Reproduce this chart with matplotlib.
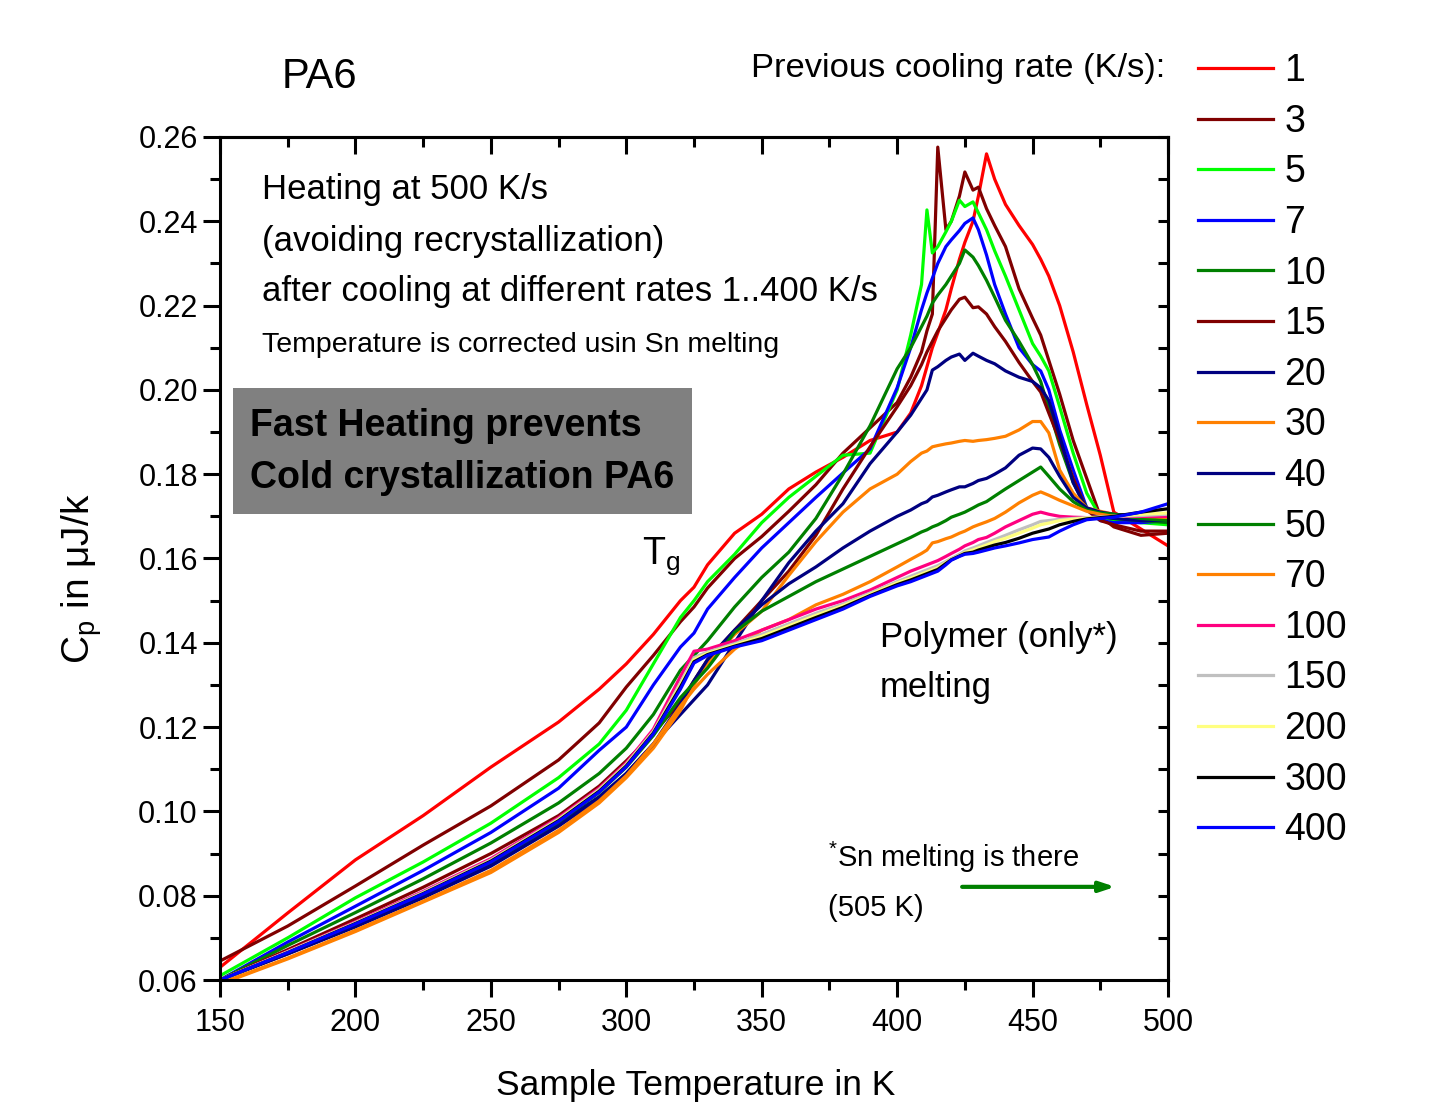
import matplotlib
matplotlib.use("Agg")
import matplotlib.pyplot as plt
from matplotlib.patches import Rectangle

plt.rcParams['font.family'] = ['Liberation Sans', 'DejaVu Sans']
plt.rcParams['mathtext.fontset'] = 'custom'
plt.rcParams['mathtext.rm'] = 'Liberation Sans'

# ---------------- data ----------------
T = [150, 175, 200, 225, 250, 275, 290, 300, 310, 320, 325, 330, 340, 350, 360, 370,
     380, 390, 400, 405, 409, 411, 413, 415, 418, 420, 423, 425, 428, 430, 433, 436,
     440, 445, 450, 453, 456, 460, 465, 470, 475, 480, 490, 500]

cp_1 = [.0630, .0759, .0885, .0990, .1105, .1212, .1290, .1350, .1420, .1500, .1532, .1585,
        .1660, .1705, .1765, .1805, .1840, .1880, .1900, .1945, .2010, .2055, .2100, .2135,
        .2190, .2240, .2310, .2350, .2400, .2460, .2560, .2500, .2440, .2390, .2345, .2310,
        .2270, .2200, .2090, .1965, .1845, .1710, .1670, .1630]
cp_3 = [.0645, .0728, .0823, .0920, .1013, .1122, .1210, .1295, .1370, .1450, .1485, .1530,
        .1600, .1652, .1712, .1775, .1850, .1910, .1970, .2030, .2090, .2140, .2180, .2576,
        .2380, .2400, .2460, .2517, .2474, .2481, .2430, .2390, .2340, .2240, .2170, .2130,
        .2070, .1990, .1880, .1790, .1700, .1675, .1655, .1660]
cp_5 = [.0610, .0700, .0795, .0880, .0972, .1080, .1160, .1240, .1350, .1460, .1500, .1545,
        .1610, .1685, .1745, .1795, .1845, .1850, .2000, .2130, .2250, .2427, .2325, .2340,
        .2375, .2400, .2450, .2435, .2446, .2420, .2380, .2330, .2270, .2190, .2110, .2080,
        .2045, .1960, .1850, .1755, .1700, .1690, .1685, .1680]
cp_7 = [.0600, .0690, .0775, .0860, .0950, .1055, .1145, .1200, .1300, .1390, .1423, .1480,
        .1555, .1625, .1685, .1745, .1803, .1860, .2005, .2100, .2190, .2230, .2265, .2300,
        .2340, .2356, .2378, .2395, .2408, .2380, .2320, .2250, .2180, .2100, .2060, .2045,
        .2000, .1905, .1810, .1720, .1690, .1685, .1685, .1690]
cp_10 = [.0600, .0682, .0760, .0840, .0925, .1020, .1090, .1150, .1230, .1335, .1370, .1405,
         .1485, .1555, .1615, .1695, .1800, .1915, .2050, .2100, .2150, .2175, .2206, .2225,
         .2250, .2270, .2300, .2332, .2315, .2295, .2260, .2220, .2165, .2115, .2060, .2020,
         .1955, .1870, .1780, .1720, .1700, .1695, .1690, .1685]
cp_15 = [.0600, .0672, .0745, .0820, .0900, .0990, .1060, .1120, .1185, .1260, .1310, .1360,
         .1430, .1500, .1570, .1655, .1765, .1865, .1960, .2010, .2060, .2090, .2115, .2140,
         .2170, .2190, .2215, .2220, .2195, .2197, .2180, .2150, .2115, .2065, .2020, .1995,
         .1945, .1880, .1790, .1715, .1690, .1680, .1665, .1665]
cp_20 = [.0600, .0662, .0728, .0800, .0875, .0970, .1035, .1090, .1160, .1230, .1265, .1300,
         .1400, .1500, .1590, .1665, .1730, .1825, .1900, .1940, .1980, .2000, .2047, .2055,
         .2070, .2078, .2085, .2070, .2087, .2080, .2070, .2062, .2045, .2030, .2020, .2005,
         .1975, .1890, .1780, .1715, .1700, .1695, .1690, .1690]
cp_30 = [.0590, .0650, .0715, .0785, .0855, .0950, .1020, .1080, .1150, .1240, .1300, .1350,
         .1420, .1475, .1560, .1640, .1710, .1765, .1800, .1830, .1850, .1855, .1865, .1868,
         .1872, .1874, .1878, .1880, .1878, .1880, .1882, .1885, .1890, .1905, .1925, .1925,
         .1898, .1810, .1755, .1720, .1712, .1705, .1700, .1695]
cp_40 = [.0600, .0662, .0726, .0795, .0870, .0965, .1030, .1090, .1160, .1255, .1310, .1360,
         .1430, .1490, .1540, .1580, .1625, .1665, .1700, .1715, .1730, .1735, .1746, .1750,
         .1758, .1763, .1770, .1770, .1778, .1785, .1790, .1800, .1815, .1845, .1862, .1860,
         .1840, .1795, .1745, .1720, .1710, .1705, .1700, .1700]
cp_50 = [.0600, .0666, .0735, .0805, .0880, .0975, .1045, .1105, .1180, .1270, .1305, .1340,
         .1425, .1475, .1510, .1545, .1575, .1605, .1635, .1650, .1663, .1668, .1675, .1680,
         .1690, .1698, .1705, .1710, .1720, .1727, .1735, .1748, .1765, .1785, .1805, .1817,
         .1795, .1765, .1735, .1715, .1708, .1705, .1695, .1690]
cp_70 = [.0592, .0652, .0718, .0787, .0860, .0955, .1025, .1085, .1160, .1250, .1290, .1325,
         .1385, .1430, .1455, .1490, .1515, .1545, .1580, .1598, .1612, .1620, .1637, .1640,
         .1647, .1651, .1660, .1665, .1675, .1680, .1687, .1695, .1710, .1732, .1750, .1758,
         .1750, .1738, .1725, .1712, .1705, .1700, .1700, .1698]
cp_100 = [.0600, .0668, .0738, .0810, .0888, .0985, .1055, .1115, .1195, .1320, .1380, .1385,
          .1405, .1430, .1455, .1480, .1500, .1525, .1555, .1570, .1580, .1585, .1590, .1595,
          .1605, .1612, .1622, .1630, .1638, .1645, .1650, .1660, .1675, .1690, .1705, .1710,
          .1705, .1700, .1698, .1697, .1698, .1700, .1700, .1700]
cp_150 = [.0600, .0667, .0736, .0808, .0885, .0982, .1052, .1112, .1190, .1305, .1365, .1378,
          .1398, .1420, .1445, .1470, .1492, .1518, .1545, .1558, .1568, .1573, .1578, .1583,
          .1593, .1600, .1610, .1618, .1625, .1630, .1638, .1645, .1655, .1668, .1680, .1688,
          .1690, .1693, .1695, .1697, .1698, .1700, .1702, .1705]
cp_200 = [.0600, .0666, .0735, .0806, .0883, .0980, .1050, .1110, .1188, .1300, .1360, .1375,
          .1395, .1415, .1440, .1465, .1488, .1515, .1542, .1553, .1563, .1568, .1573, .1578,
          .1590, .1598, .1607, .1614, .1620, .1625, .1632, .1640, .1648, .1660, .1672, .1680,
          .1684, .1690, .1693, .1696, .1698, .1700, .1705, .1708]
cp_300 = [.0600, .0665, .0734, .0805, .0882, .0978, .1048, .1108, .1186, .1295, .1355, .1372,
          .1392, .1410, .1435, .1460, .1484, .1512, .1538, .1549, .1559, .1564, .1569, .1574,
          .1588, .1597, .1606, .1612, .1615, .1620, .1626, .1632, .1638, .1648, .1660, .1665,
          .1670, .1680, .1688, .1694, .1697, .1700, .1710, .1718]
cp_400 = [.0600, .0665, .0733, .0804, .0880, .0976, .1046, .1106, .1184, .1290, .1352, .1370,
          .1390, .1405, .1430, .1455, .1480, .1510, .1535, .1545, .1555, .1560, .1565, .1570,
          .1585, .1596, .1605, .1610, .1612, .1615, .1620, .1625, .1630, .1637, .1645, .1648,
          .1651, .1665, .1680, .1692, .1695, .1698, .1710, .1730]

rates = ['1', '3', '5', '7', '10', '15', '20', '30', '40', '50', '70', '100', '150', '200', '300', '400']
series = [cp_1, cp_3, cp_5, cp_7, cp_10, cp_15, cp_20, cp_30, cp_40, cp_50, cp_70,
          cp_100, cp_150, cp_200, cp_300, cp_400]
colors = ['#FF0000', '#800000', '#00FF00', '#0000FF', '#008000', '#800000', '#000080',
          '#FF8000', '#000080', '#008000', '#FF8000', '#FF0080', '#C0C0C0', '#FFFF80',
          '#000000', '#0000FF']

# ---------------- figure ----------------
W, H = 1451, 1115
fig = plt.figure(figsize=(W / 100, H / 100), dpi=100)
fig.patch.set_facecolor('white')

def fx(px):
    return px / W

def fy(py):
    return 1 - py / H

ax = fig.add_axes([fx(220), fy(980), fx(1168) - fx(220), fy(137) - fy(980)])

handles = []
for lab, cp, col in zip(rates, series, colors):
    ln, = ax.plot(T, cp, color=col, lw=2.3, label=lab, solid_joinstyle='round')
    handles.append(ln)

ax.set_xlim(150, 500)
ax.set_ylim(0.06, 0.26)

for sp in ax.spines.values():
    sp.set_linewidth(2.2)

ax.set_xticks(range(150, 501, 50))
ax.set_xticks(range(175, 500, 50), minor=True)
ax.set_yticks([0.06 + 0.02 * i for i in range(11)])
ax.set_yticks([0.07 + 0.02 * i for i in range(10)], minor=True)
ax.set_yticklabels([f"{0.06 + 0.02 * i:.2f}" for i in range(11)])
ax.tick_params(axis='both', which='major', direction='out', length=12, width=2.2,
               labelsize=22, pad=4)
ax.tick_params(axis='both', which='minor', direction='out', length=7, width=2.2)
ax.tick_params(axis='x', which='major', pad=8)

top = ax.secondary_xaxis('top')
top.set_xticks(range(150, 501, 50))
top.set_xticks(range(175, 500, 50), minor=True)
top.tick_params(axis='x', which='major', direction='in', length=12, width=2.2, labeltop=False)
top.tick_params(axis='x', which='minor', direction='in', length=7, width=2.2)
top.spines['top'].set_linewidth(2.2)

right = ax.secondary_yaxis('right')
right.set_yticks([0.06 + 0.01 * i for i in range(21)])
right.tick_params(axis='y', which='major', direction='in', length=7, width=2.2, labelright=False)
right.spines['right'].set_linewidth(2.2)

fig.text(fx(696), fy(1085), 'Sample Temperature in K', fontsize=25.5, ha='center', va='center')
fig.text(fx(82), fy(579), r'C$_\mathregular{p}$ in $\mathregular{\mu}$J/k', fontsize=28,
         rotation=90, ha='center', va='center')

# legend
fig.legend(handles=handles, labels=rates, loc='upper left',
           bbox_to_anchor=(fx(1198), fy(53)), frameon=False, fontsize=27,
           handlelength=2.0, handletextpad=0.3, labelspacing=0.39, borderaxespad=0,
           borderpad=0)
fig.text(fx(1165), fy(68), 'Previous cooling rate (K/s):', fontsize=24.8, ha='right', va='center')
fig.text(fx(282), fy(77), 'PA6', fontsize=30, ha='left', va='center')

# annotations
fig.text(fx(262), fy(190), 'Heating at 500 K/s', fontsize=25, ha='left', va='center')
fig.text(fx(262), fy(241), '(avoiding recrystallization)', fontsize=25, ha='left', va='center')
fig.text(fx(262), fy(292), 'after cooling at different rates 1..400 K/s', fontsize=25,
         ha='left', va='center')
fig.text(fx(262), fy(345), 'Temperature is corrected usin Sn melting', fontsize=20.5,
         ha='left', va='center')

fig.patches.append(Rectangle((fx(233), fy(514)), fx(692) - fx(233), fy(388) - fy(514),
                             transform=fig.transFigure, facecolor='#808080',
                             edgecolor='none', zorder=3))
fig.text(fx(250), fy(426), 'Fast Heating prevents', fontsize=27, fontweight='bold',
         ha='left', va='center', zorder=4)
fig.text(fx(250), fy(478), 'Cold crystallization PA6', fontsize=27, fontweight='bold',
         ha='left', va='center', zorder=4)

fig.text(fx(642), fy(556), r'T$_\mathregular{g}$', fontsize=27, ha='left', va='center')
fig.text(fx(880), fy(638), 'Polymer (only*)', fontsize=25, ha='left', va='center')
fig.text(fx(880), fy(688), 'melting', fontsize=25, ha='left', va='center')
fig.text(fx(828), fy(857), r'$^\mathregular{*}$Sn melting is there', fontsize=21, ha='left', va='center')
fig.text(fx(828), fy(908), '(505 K)', fontsize=21, ha='left', va='center')

ax.annotate('', xy=(480.5, 0.0821), xytext=(424, 0.0821),
            arrowprops=dict(arrowstyle='-|>,head_length=0.9,head_width=0.3',
                            color='#008000', lw=3, shrinkA=0, shrinkB=0))

fig.savefig('out.png', dpi=100)
